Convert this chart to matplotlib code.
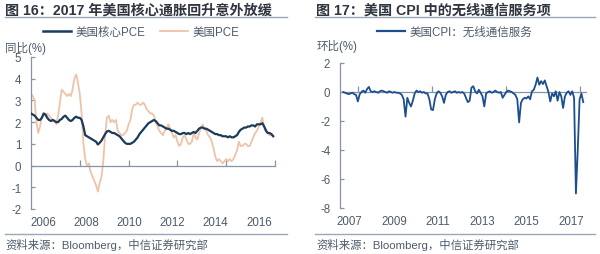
import matplotlib
matplotlib.use("Agg")
import matplotlib.pyplot as plt
from matplotlib.lines import Line2D

plt.rcParams['font.family'] = ['Liberation Sans', 'Noto Sans CJK SC', 'DejaVu Sans']

# ---------------- Data: left chart (monthly, Jun 2006 - Aug 2017, y/y %) ----------------
core_pce = [
    2.4, 2.35, 2.3, 2.2, 2.1, 2.1, 2.2,
    2.4, 2.35, 2.2, 2.1, 2.05, 2.1, 2.05, 2.0, 2.0, 2.1, 2.15, 2.25,
    2.3, 2.2, 2.1, 2.05, 2.1, 2.2, 2.25, 2.2, 2.2, 2.1, 1.8, 1.4,
    1.35, 1.3, 1.25, 1.2, 1.15, 1.1, 0.97, 1.05, 1.15, 1.3, 1.45, 1.57,
    1.6, 1.55, 1.5, 1.5, 1.45, 1.4, 1.35, 1.25, 1.15, 1.05, 1.0, 1.0,
    1.0, 1.05, 1.1, 1.2, 1.3, 1.45, 1.55, 1.65, 1.75, 1.85, 1.95, 2.0,
    2.05, 2.1, 2.05, 1.95, 1.85, 1.85, 1.8, 1.75, 1.7, 1.7, 1.65, 1.6,
    1.6, 1.55, 1.5, 1.45, 1.45, 1.5, 1.5, 1.45, 1.5, 1.45, 1.5, 1.55,
    1.5, 1.6, 1.7, 1.75, 1.75, 1.7, 1.7, 1.65, 1.6, 1.55, 1.5, 1.45,
    1.45, 1.4, 1.4, 1.35, 1.35, 1.35, 1.3, 1.35, 1.3, 1.3, 1.35, 1.4,
    1.55, 1.65, 1.7, 1.75, 1.75, 1.8, 1.8, 1.85, 1.85, 1.8, 1.9, 1.9,
    1.9, 1.95, 1.8, 1.6, 1.5, 1.5, 1.45, 1.35,
]
pce = [
    3.3, 3.2, 3.0, 2.0, 1.5, 1.8, 2.2,
    2.3, 2.3, 2.4, 2.3, 2.2, 2.1, 2.1, 1.9, 2.3, 2.9, 3.5, 3.4,
    3.3, 3.2, 3.3, 3.2, 3.5, 4.0, 4.2, 3.8, 3.3, 2.4, 1.0, 0.3,
    0.0, 0.1, -0.3, -0.5, -0.7, -0.9, -1.2, -0.8, -0.5, 0.2, 1.4, 2.2,
    2.3, 2.0, 2.1, 2.0, 2.1, 1.6, 1.5, 1.4, 1.4, 1.5, 1.6, 1.9,
    2.1, 2.6, 2.8, 2.8, 2.9, 2.8, 2.8, 2.9, 2.8, 2.6, 2.5, 2.4,
    2.4, 2.3, 2.0, 1.8, 1.6, 1.5, 1.4, 1.6, 1.7, 1.9, 1.7, 1.5,
    1.3, 1.4, 1.1, 0.9, 1.0, 1.3, 1.4, 1.2, 1.0, 1.0, 1.1, 1.5,
    1.3, 1.2, 1.5, 1.7, 1.9, 1.7, 1.6, 1.4, 1.3, 1.1, 0.8, 0.4,
    0.2, 0.3, 0.2, 0.1, 0.2, 0.3, 0.2, 0.3, 0.2, 0.3, 0.5, 0.7,
    1.1, 0.9, 0.9, 1.0, 1.0, 0.9, 0.9, 1.1, 1.3, 1.5, 1.6, 1.8,
    2.0, 2.2, 1.8, 1.7, 1.5, 1.4, 1.4, 1.4,
]
left_xlim = [0, 135]
left_tickmarks = [27, 54, 81, 108, 135]
left_label_pos = [7.0, 30.8, 54.2, 78.2, 102.1, 126.1]
left_labels = ['2006', '2008', '2010', '2012', '2014', '2016']
left_yticks = [-2, -1, 0, 1, 2, 3, 4, 5]

# ---------------- Data: right chart (monthly, Aug 2006 - Jul 2017, m/m %) ----------------
wireless_cpi = [
    0.0, -0.05, -0.1, -0.15, -0.1, -0.05, -0.15, -0.2, -0.65, -0.15,
    0.0, 0.1, -0.05, 0.2, 0.35, 0.05, 0.0, 0.05, 0.0, -0.05,
    0.05, 0.1, 0.05, 0.0, -0.05, 0.05, 0.0, -0.05, 0.0, -0.05,
    -0.05, -0.1, -0.2, -0.5, -1.7, -0.4, -0.75, -1.0, -0.6, -0.1,
    0.1, 0.0, 0.05, -0.05, 0.0, -0.1, -0.1, -0.5, -1.2, -1.25,
    -0.5, -0.1, 0.05, -0.05, -0.3, -0.75, -0.2, 0.0, 0.05, -0.05,
    0.0, 0.05, -0.05, 0.0, -0.05, 0.0, -0.1, -0.4, -0.7, -0.6,
    0.3, 0.4, 0.05, -0.1, 0.15, -0.05, -0.3, -1.0, -0.1, 0.0,
    0.05, -0.05, 0.0, 0.1, 0.0, -0.05, 0.0, -0.4, -0.2, 0.0,
    0.1, 0.05, 0.0, -0.1, -0.2, -0.5, -2.1, -0.75, -0.5, -0.4,
    -0.45, -0.3, -0.5, 0.05, 0.15, 0.5, 1.0, 0.5, 0.75, 0.55,
    0.8, 0.4, 0.0, -0.65, -0.1, -0.3, 0.05, -0.6, 0.0, -0.3,
    -1.1, -0.3, -0.05, 0.05, -0.2, 0.05, -0.4, -7.0, -4.0, -0.5,
    -0.1, -0.7,
]
right_xlim = [-1.75, 132.5]
right_tickmarks = [8.0, 48.4, 88.8, 129.2]
right_label_pos = [3.2, 27.7, 51.7, 75.7, 99.7, 124.2]
right_labels = ['2007', '2009', '2011', '2013', '2015', '2017']
right_yticks = [-8, -6, -4, -2, 0, 2]

W, H = 600, 255
fig = plt.figure(figsize=(6.0, 2.55), dpi=100)
fig.patch.set_facecolor('white')

TXT = '#4d5b6a'
AX = '#8494a6'
CORE_C = '#1c3a5c'
PCE_C = '#efc3a8'
CPI_C = '#1d4f8f'


def fx(px):
    return px / W


def fy(py):
    return 1 - py / H


def style_axes(ax, yticks, tickmarks, label_pos, labels, xlim, ylim):
    ax.set_xlim(*xlim)
    ax.set_ylim(*ylim)
    for s in ['top', 'right']:
        ax.spines[s].set_visible(False)
    ax.spines['left'].set_color(AX)
    ax.spines['left'].set_linewidth(0.9)
    ax.spines['bottom'].set_position(('data', 0))
    ax.spines['bottom'].set_color(AX)
    ax.spines['bottom'].set_linewidth(0.9)
    ax.set_yticks(yticks)
    ax.set_yticklabels([str(v) for v in yticks])
    ax.tick_params(axis='y', direction='in', length=3, width=0.9, color=AX,
                   labelsize=8.3, labelcolor=TXT, pad=7)
    ax.set_xticks(tickmarks)
    ax.tick_params(axis='x', direction='in', length=4, width=0.9, color=AX,
                   labelbottom=False)
    sec = ax.secondary_xaxis('bottom')
    sec.spines['bottom'].set_visible(False)
    sec.set_xticks(label_pos)
    sec.set_xticklabels(labels)
    sec.tick_params(axis='x', length=0, labelsize=8.3, labelcolor=TXT, pad=5)
    ax.patch.set_alpha(0)


# ---------------- Left chart ----------------
axL = fig.add_axes([fx(31), fy(210), fx(275) - fx(31), fy(58) - fy(210)])
xl = list(range(len(core_pce)))
axL.plot(xl, pce, color=PCE_C, lw=1.3, label='美国PCE', zorder=2)
axL.plot(xl, core_pce, color=CORE_C, lw=1.6, label='美国核心PCE', zorder=3)
style_axes(axL, left_yticks, left_tickmarks, left_label_pos, left_labels,
           left_xlim, (-2, 5))
hL = [Line2D([], [], color=CORE_C, lw=1.8), Line2D([], [], color=PCE_C, lw=1.3)]
axL.legend(hL, ['美国核心PCE', '美国PCE'], loc='center',
           bbox_to_anchor=(fx(141), fy(33)), bbox_transform=fig.transFigure,
           ncol=2, frameon=False, fontsize=8.3, handlelength=2.4,
           handletextpad=0.4, columnspacing=1.3, labelcolor=TXT,
           borderpad=0, borderaxespad=0)

# ---------------- Right chart ----------------
axR = fig.add_axes([fx(340), fy(209), fx(586) - fx(340), fy(64) - fy(209)])
xr = list(range(len(wireless_cpi)))
axR.plot(xr, wireless_cpi, color=CPI_C, lw=1.3, zorder=3)
style_axes(axR, right_yticks, right_tickmarks, right_label_pos, right_labels,
           right_xlim, (-8, 2))
hR = [Line2D([], [], color=CPI_C, lw=1.6)]
axR.legend(hR, ['美国CPI：无线通信服务'], loc='center',
           bbox_to_anchor=(fx(455), fy(33)), bbox_transform=fig.transFigure,
           ncol=1, frameon=False, fontsize=8.3, handlelength=2.4,
           handletextpad=0.4, labelcolor=TXT, borderpad=0, borderaxespad=0)

# ---------------- Titles, unit labels, sources ----------------
TITLE_C = '#2f3640'
fig.text(fx(5), fy(11), '图 16：2017 年美国核心通胀回升意外放缓', fontsize=10.2,
         color=TITLE_C, va='center', ha='left', fontweight='bold')
fig.text(fx(316), fy(11), '图 17：美国 CPI 中的无线通信服务项', fontsize=10.2,
         color=TITLE_C, va='center', ha='left', fontweight='bold')
LINE_C = '#9aa7b5'
for x0, x1 in [(5, 287), (315, 595)]:
    fig.add_artist(Line2D([fx(x0), fx(x1)], [fy(18), fy(18)], color=LINE_C,
                          lw=1.0, transform=fig.transFigure))
    fig.add_artist(Line2D([fx(x0), fx(x1)], [fy(235), fy(235)], color=LINE_C,
                          lw=1.0, transform=fig.transFigure))

fig.text(fx(5), fy(48), '同比(%)', fontsize=8.3, color=TXT, va='center', ha='left')
fig.text(fx(317), fy(46), '环比(%)', fontsize=8.3, color=TXT, va='center', ha='left')

fig.text(fx(5), fy(245), '资料来源：Bloomberg，中信证券研究部', fontsize=8.2,
         color=TXT, va='center', ha='left')
fig.text(fx(316), fy(245), '资料来源：Bloomberg，中信证券研究部', fontsize=8.2,
         color=TXT, va='center', ha='left')

fig.savefig('out.png', dpi=100, facecolor='white')
